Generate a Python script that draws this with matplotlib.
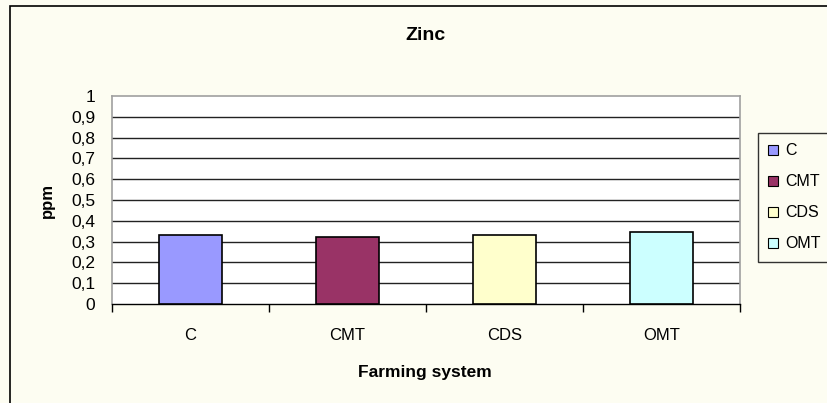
import matplotlib
matplotlib.use("Agg")
import matplotlib.pyplot as plt
from matplotlib.patches import Rectangle, Patch

plt.rcParams['font.family'] = ['Liberation Sans', 'DejaVu Sans']

categories = ["C", "CMT", "CDS", "OMT"]
values = [0.33, 0.32, 0.33, 0.345]
colors = ["#9999FF", "#993366", "#FFFFCC", "#CCFFFF"]
yticks = [0, 0.1, 0.2, 0.3, 0.4, 0.5, 0.6, 0.7, 0.8, 0.9, 1.0]
ytick_labels = ["0", "0,1", "0,2", "0,3", "0,4", "0,5", "0,6", "0,7", "0,8", "0,9", "1"]

bg = "#FDFDF2"
fig = plt.figure(figsize=(8.28, 4.03), dpi=100, facecolor=bg)
ax = fig.add_axes([112/828, 1-304/403, (740-112)/828, (304-96)/403])
ax.set_facecolor("white")

x = list(range(len(categories)))
ax.bar(x, values, width=0.4, color=colors, edgecolor="black", linewidth=1.2, zorder=3)

ax.set_xlim(-0.5, len(categories)-0.5)
ax.set_ylim(0, 1)
ax.set_yticks(yticks)
ax.set_yticklabels(ytick_labels, fontsize=12.5)
ax.tick_params(axis='y', length=0, pad=12)
ax.set_xticks(x)
ax.set_xticklabels(categories, fontsize=12)
ax.tick_params(axis='x', which='major', length=0, pad=17)
ax.set_xticks([i-0.5 for i in range(len(categories)+1)], minor=True)
ax.tick_params(axis='x', which='minor', length=6, width=1, color='black', direction='out')

for yv in yticks[1:-1]:
    ax.axhline(yv, color="#222222", linewidth=1.0, zorder=1)

for s in ['top', 'right', 'left']:
    ax.spines[s].set_color('#A0A0A0')
    ax.spines[s].set_linewidth(1.2)
ax.spines['bottom'].set_color('black')
ax.spines['bottom'].set_linewidth(1.0)

fig.text(426/828, 1-35/403, "Zinc", ha='center', va='center', fontsize=14, fontweight='bold')
fig.text(425/828, 1-372/403, "Farming system", ha='center', va='center', fontsize=12.5, fontweight='bold')
fig.text(47/828, 1-201/403, "ppm", ha='center', va='center', fontsize=12, fontweight='bold', rotation=90)

handles = [Patch(facecolor=c, edgecolor='black', linewidth=0.8) for c in colors]
leg = fig.legend(handles, categories, loc='upper left', bbox_to_anchor=(758/828, 1-133/403),
                 frameon=True, fontsize=11.5, handlelength=0.6, handleheight=0.6,
                 handletextpad=0.45, labelspacing=1.0, borderpad=0.65, borderaxespad=0,
                 fancybox=False)
leg.get_frame().set_edgecolor('black')
leg.get_frame().set_linewidth(1.0)
leg.get_frame().set_facecolor(bg)

fig.patches.append(Rectangle((9.5/828, -0.1), 1.2, 1-6/403+0.1, transform=fig.transFigure,
                             fill=False, edgecolor='black', linewidth=1.2))

fig.savefig("out.png", dpi=100, facecolor=bg)
